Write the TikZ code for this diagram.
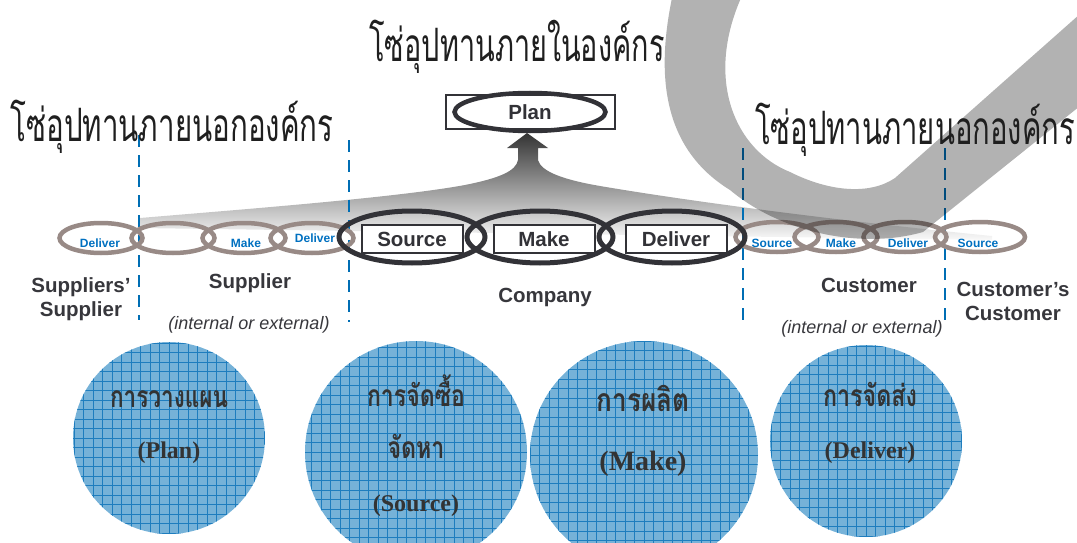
\documentclass[tikz,border=0pt]{standalone}
\usepackage{graphicx}
\usepackage{fontspec}
\setmainfont{Liberation Sans}
\newfontfamily\thaifont[Script=Thai]{Loma}
\newfontfamily\timesf{Liberation Serif}
\usetikzlibrary{shapes.geometric}

\definecolor{linkgray}{RGB}{152,138,134}
\definecolor{linkblue}{RGB}{0,112,192}
\definecolor{dashblue}{RGB}{0,110,180}
\definecolor{darkline}{RGB}{50,50,55}
\definecolor{labelgray}{RGB}{55,55,60}
\definecolor{ballfill}{RGB}{118,178,216}
\definecolor{ballgrid}{RGB}{30,125,190}

\newcommand{\fsz}[1]{\fontsize{#1}{24}\selectfont}
\newcommand{\squeeze}[2]{\resizebox{#1pt}{\height}{#2}}

\tikzset{
  outlink/.style={ellipse, draw=linkgray, line width=4.5pt, minimum width=83pt, minimum height=30pt, inner sep=0pt},
  colink/.style={ellipse, draw=darkline, line width=5pt, minimum width=146pt, minimum height=52pt, inner sep=0pt},
  stepbox/.style={draw=darkline, line width=2pt, fill=white, minimum width=101pt, minimum height=28pt, inner sep=0pt, font=\bfseries\fsz{20.5}, text=darkline},
  linktext/.style={font=\bfseries\fsz{12}, text=linkblue, anchor=base, inner sep=0pt},
  partytext/.style={font=\bfseries\fsz{20.5}, text=labelgray, align=center, inner sep=0pt},
  scopetext/.style={font=\itshape\fsz{18}, text=labelgray, anchor=base, inner sep=0pt},
  bordertick/.style={draw=dashblue, line width=2.5pt, dash pattern=on 12pt off 8pt},
  ball/.style={circle, fill=ballfill, inner sep=0pt, path picture={\draw[ballgrid, line width=0.8pt, step=9.5pt] (path picture bounding box.south west) grid (path picture bounding box.north east);}},
  thaititle/.style={font=\thaifont\fsz{46}, text=black!88, anchor=base, inner sep=0pt},
  thaiball/.style={font=\thaifont\bfseries\fsz{30}, text=black!80, anchor=base, inner sep=0pt},
  engball/.style={font=\timesf\bfseries\fsz{24}, text=black!80, anchor=base, inner sep=0pt}
}

\begin{document}
\begin{tikzpicture}[x=1pt,y=-1pt]
\useasboundingbox (0,0) rectangle (1077,543);
\clip (0,0) rectangle (1077,543);

% fan up to the plan
\shade[top color=black!80, middle color=black!28, bottom color=black!2]
  (527,133) -- (548,148) -- (538,148) -- (538,160)
  .. controls (541,172) and (565,180) .. (600,186)
  .. controls (700,203) and (850,222) .. (992,236) -- (992,240) -- (140,228) -- (140,218)
  .. controls (260,208) and (400,197) .. (465,185)
  .. controls (500,178) and (516,171) .. (518,160) -- (518,148) -- (507,148) -- cycle;

\foreach \x/\a/\b in {139/135/320, 349/140/322, 743/148/327, 945/148/327}
  \draw[bordertick] (\x,\a) -- (\x,\b);

% chain
\foreach \x [count=\i] in {101,173,244,312} \node[outlink] (sup\i) at (\x,238) {};
\foreach \x [count=\i] in {777,836,905} \node[outlink] (cus\i) at (\x,237) {};
\node[outlink, minimum width=90pt] (cus4) at (980,237) {};
\foreach \x [count=\i] in {412,540,672} \node[colink] (co\i) at (\x,237) {};

\node[stepbox] (coSource) at (412,239) {Source};
\node[stepbox] (coMake) at (544,239) {Make};
\node[stepbox] (coDeliver) at (676,239) {Deliver};

\node[linktext] (supDeliverA) at (100,247) {Deliver};
\node[linktext] (supMake) at (246,247) {Make};
\node[linktext] (supDeliverB) at (315,242) {Deliver};
\node[linktext] (cusSourceA) at (772,247) {Source};
\node[linktext] (cusMake) at (841,247) {Make};
\node[linktext] (cusDeliver) at (908,247) {Deliver};
\node[linktext] (cusSourceB) at (978,247) {Source};

% plan
\node[draw=darkline, line width=2pt, minimum width=169pt, minimum height=33pt] (planbox) at (530,112) {};
\node[colink, line width=4.5pt, minimum width=151pt, minimum height=38pt] (planlink) at (530,112) {};
\node[font=\bfseries\fsz{20.5}, text=darkline] (plan) at (530,112) {Plan};

% check mark
\fill[black, fill opacity=0.3] (672,-2) .. controls (655,80) and (665,150) .. (730,190)
  .. controls (780,232) and (860,250) .. (923,232) -- (1080,106) -- (1080,14) -- (895,178)
  .. controls (870,195) and (830,192) .. (790,172)
  .. controls (735,150) and (705,80) .. (741,-2) -- cycle;

\node[thaititle] (intitle) at (517,62) {\squeeze{295}{โซ่อุปทานภายในองค์กร}};
\node[thaititle] (outtitleL) at (172,141) {\squeeze{323}{โซ่อุปทานภายนอกองค์กร}};
\node[thaititle] (outtitleR) at (915,144) {\squeeze{320}{โซ่อุปทานภายนอกองค์กร}};

% parties
\node[partytext] (supsup) at (81,299) {Suppliers’\\Supplier};
\node[partytext, anchor=base] (supplier) at (250,288) {Supplier};
\node[scopetext] (supscope) at (249,329) {(internal or external)};
\node[partytext, anchor=base] (company) at (545,302) {Company};
\node[partytext, anchor=base] (customer) at (869,292) {Customer};
\node[scopetext] (cusscope) at (862,333) {(internal or external)};
\node[partytext] (cuscus) at (1013,301) {Customer’s\\Customer};

% activities
\node[ball, minimum size=192pt] (ballPlan) at (169,438) {};
\node[ball, minimum size=222pt] (ballSource) at (416,452) {};
\node[ball, minimum size=228pt] (ballMake) at (644,455) {};
\node[ball, minimum size=192pt] (ballDeliver) at (866,441) {};

\node[thaiball] (planTh) at (169,407) {\squeeze{118}{การวางแผน}};
\node[engball] (planEn) at (169,458) {(Plan)};
\node[thaiball] (sourceTh) at (416,406) {\squeeze{98}{การจัดซื้อ}};
\node[thaiball] (sourceThB) at (416,458) {\squeeze{57}{จัดหา}};
\node[engball] (sourceEn) at (416,511) {(Source)};
\node[thaiball, font=\thaifont\bfseries\fsz{32}] (makeTh) at (643,411) {\squeeze{93}{การผลิต}};
\node[engball, font=\timesf\bfseries\fsz{28}] (makeEn) at (643,470) {(Make)};
\node[thaiball] (deliverTh) at (870,406) {\squeeze{94}{การจัดส่ง}};
\node[engball] (deliverEn) at (870,458) {(Deliver)};
\end{tikzpicture}
\end{document}
